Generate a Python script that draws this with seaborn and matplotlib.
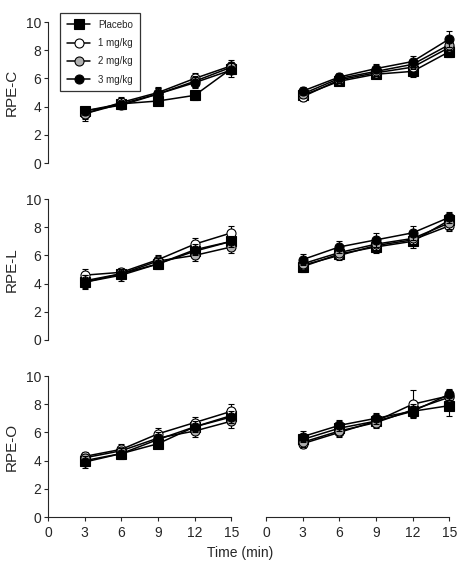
import numpy as np
import pandas as pd
import matplotlib
matplotlib.use('Agg')
import matplotlib.pyplot as plt
import seaborn as sns

sns.set_style('ticks')
plt.rcParams['font.family'] = ['Liberation Sans', 'DejaVu Sans']

times = [3, 6, 9, 12, 15]
doses = ['Placebo', '1 mg/kg', '2 mg/kg', '3 mg/kg']
row_labels = ['RPE-C', 'RPE-L', 'RPE-O']

# means per dose (Placebo, 1, 2, 3 mg/kg), first and second bout
rpe_c_first = [[3.7, 4.2, 4.4, 4.8, 6.7],
               [3.5, 4.3, 5.0, 6.0, 6.9],
               [3.5, 4.2, 4.9, 5.8, 6.8],
               [3.7, 4.1, 4.9, 5.7, 6.6]]
rpe_c_second = [[4.8, 5.8, 6.3, 6.5, 7.9],
                [4.7, 5.9, 6.4, 6.8, 8.2],
                [4.9, 6.0, 6.5, 7.0, 8.4],
                [5.1, 6.1, 6.7, 7.2, 8.8]]
rpe_l_first = [[4.1, 4.7, 5.4, 6.3, 7.0],
               [4.6, 4.8, 5.7, 6.8, 7.6],
               [4.2, 4.7, 5.6, 6.0, 6.6],
               [4.1, 4.6, 5.4, 6.4, 7.0]]
rpe_l_second = [[5.2, 6.1, 6.6, 7.0, 8.5],
                [5.3, 6.0, 6.7, 7.1, 8.1],
                [5.4, 6.2, 6.8, 7.2, 8.3],
                [5.7, 6.6, 7.1, 7.6, 8.7]]
rpe_o_first = [[4.0, 4.5, 5.2, 6.4, 7.2],
               [4.3, 4.8, 5.9, 6.7, 7.5],
               [4.2, 4.7, 5.6, 6.1, 6.8],
               [3.9, 4.5, 5.5, 6.4, 7.1]]
rpe_o_second = [[5.5, 6.3, 6.8, 7.5, 7.9],
                [5.2, 6.0, 6.8, 8.0, 8.6],
                [5.3, 6.1, 6.7, 7.6, 8.5],
                [5.7, 6.5, 7.0, 7.5, 8.7]]

# error bars (SEM)
err_c_first = [[0.3, 0.3, 0.3, 0.3, 0.4],
               [0.5, 0.4, 0.4, 0.4, 0.4],
               [0.4, 0.4, 0.4, 0.4, 0.4],
               [0.3, 0.3, 0.4, 0.4, 0.5]]
err_c_second = [[0.3, 0.3, 0.3, 0.4, 0.4],
                [0.3, 0.3, 0.4, 0.4, 0.4],
                [0.3, 0.3, 0.3, 0.3, 0.4],
                [0.3, 0.3, 0.3, 0.4, 0.6]]
err_l_first = [[0.4, 0.3, 0.3, 0.4, 0.5],
               [0.4, 0.3, 0.3, 0.4, 0.5],
               [0.4, 0.3, 0.3, 0.4, 0.4],
               [0.5, 0.4, 0.4, 0.4, 0.4]]
err_l_second = [[0.4, 0.3, 0.4, 0.5, 0.4],
                [0.3, 0.3, 0.4, 0.4, 0.4],
                [0.3, 0.3, 0.4, 0.4, 0.4],
                [0.4, 0.4, 0.5, 0.5, 0.4]]
err_o_first = [[0.3, 0.3, 0.3, 0.4, 0.5],
               [0.3, 0.4, 0.4, 0.4, 0.5],
               [0.3, 0.3, 0.4, 0.4, 0.5],
               [0.4, 0.4, 0.4, 0.4, 0.4]]
err_o_second = [[0.3, 0.3, 0.3, 0.4, 0.7],
                [0.3, 0.3, 0.4, 1.0, 0.4],
                [0.3, 0.3, 0.4, 0.4, 0.4],
                [0.4, 0.4, 0.4, 0.4, 0.4]]

panels = [(rpe_c_first, err_c_first, rpe_c_second, err_c_second),
          (rpe_l_first, err_l_first, rpe_l_second, err_l_second),
          (rpe_o_first, err_o_first, rpe_o_second, err_o_second)]

markers = ['s', 'o', 'o', 'o']
faces = ['black', 'white', '#b0b0b0', 'black']

fig = plt.figure(figsize=(4.74, 5.74), dpi=100)
bottoms = [0.716, 0.4077, 0.0993]
lefts = [0.1013, 0.561]
width = 0.387
height = 0.2456

for r, (m1, e1, m2, e2) in enumerate(panels):
    for c, (means, errs) in enumerate([(m1, e1), (m2, e2)]):
        ax = fig.add_axes([lefts[c], bottoms[r], width, height])
        for i, dose in enumerate(doses):
            df = pd.DataFrame({'time': times, 'rpe': means[i], 'err': errs[i]})
            ax.errorbar(df['time'], df['rpe'], yerr=df['err'], fmt='none',
                        ecolor='black', elinewidth=0.8, capsize=2, capthick=0.8,
                        zorder=2 + i, clip_on=False)
            sns.lineplot(data=df, x='time', y='rpe', ax=ax, color='black',
                         marker=markers[i], markerfacecolor=faces[i],
                         markeredgecolor='black', markeredgewidth=0.8,
                         markersize=6.5, linewidth=1.1, label=dose,
                         zorder=3 + i, clip_on=False, legend=False)
        ax.set_xlim(0, 15)
        ax.set_ylim(0, 10)
        ax.set_xlabel('')
        ax.set_ylabel('')
        sns.despine(ax=ax)
        if c == 0:
            ax.set_yticks([0, 2, 4, 6, 8, 10])
            ax.tick_params(axis='y', labelsize=10, length=3, width=0.8, pad=2)
            ax.set_ylabel(row_labels[r], fontsize=11, labelpad=5)
            ax.spines['left'].set_linewidth(0.8)
        else:
            ax.spines['left'].set_visible(False)
            ax.set_yticks([])
        if r == 2:
            ax.set_xticks([0, 3, 6, 9, 12, 15])
            ax.tick_params(axis='x', labelsize=10, length=3, width=0.8)
            ax.spines['bottom'].set_linewidth(0.8)
        else:
            ax.spines['bottom'].set_visible(False)
            ax.set_xticks([])
        if r == 0 and c == 0:
            leg = ax.legend(loc='upper left', bbox_to_anchor=(0.066, 1.064),
                            borderaxespad=0, fontsize=7, frameon=True,
                            fancybox=False, edgecolor='black', handlelength=2.4,
                            labelspacing=0.85, borderpad=0.7)
            leg.get_frame().set_linewidth(0.9)

fig.text(0.506, 1 - 553 / 574, 'Time (min)', ha='center', va='center', fontsize=10)

plt.savefig('out.png', dpi=100)
